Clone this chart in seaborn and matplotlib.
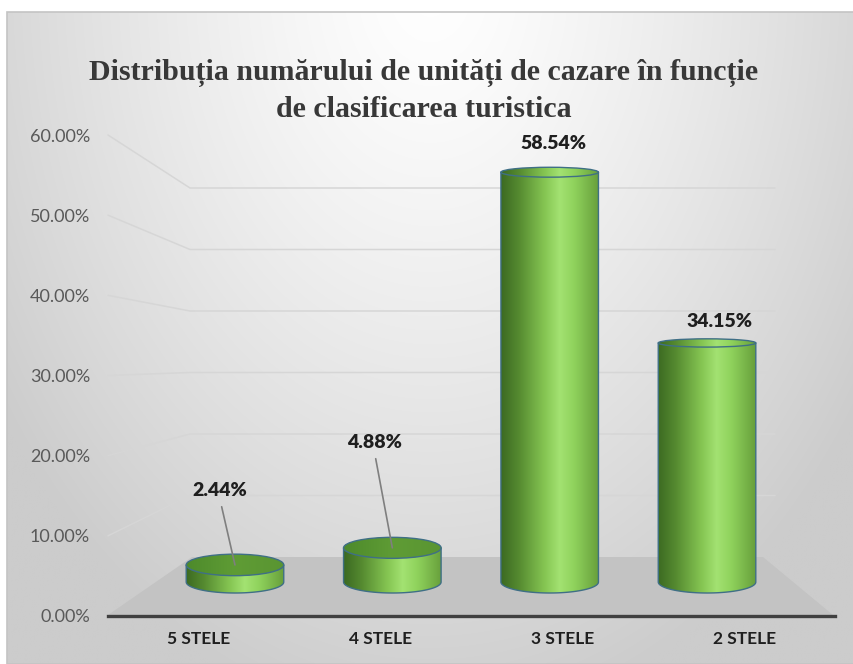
import numpy as np
import pandas as pd
import matplotlib
matplotlib.use("Agg")
import matplotlib.pyplot as plt
from matplotlib.path import Path
from matplotlib.patches import PathPatch, Ellipse, Polygon, Rectangle
from matplotlib.colors import LinearSegmentedColormap
from matplotlib.ticker import PercentFormatter
import seaborn as sns

# --- data -------------------------------------------------------------
categories = ["5 STELE", "4 STELE", "3 STELE", "2 STELE"]
shares = [0.0244, 0.0488, 0.5854, 0.3415]
y_ticks = [0.0, 0.1, 0.2, 0.3, 0.4, 0.5, 0.6]
title = "Distribuția numărului de unități de cazare în funcție\nde clasificarea turistica"

df = pd.DataFrame({"categorie": categories, "pondere": shares})

sns.set_style("white")
plt.rcParams["font.family"] = ["Lato", "DejaVu Sans"]

W, H = 854, 664
fig = plt.figure(figsize=(W / 100, H / 100), dpi=100, facecolor="white")

# --- scene: background, back wall grid, floor (pixel coordinates) -----
scene = fig.add_axes([0, 0, 1, 1], zorder=0)
scene.set_axis_off()
gx = np.linspace(0, 1, 400)
gy = np.linspace(0, 1, 320)
GX, GY = np.meshgrid(gx, gy)
t = np.clip(np.sqrt(((GX - 0.5) / 0.62) ** 2 + ((GY + 0.05) / 1.15) ** 2), 0, 1)
shade = 1.0 - 0.20 * t ** 1.3
bg = np.dstack([shade, shade, shade])
scene.imshow(bg, extent=(7, W, H, 12), aspect="auto", interpolation="bilinear")
scene.add_patch(Rectangle((7, 12), W - 7, H - 12, fill=False, ec="#c4c4c4", lw=1.2))

front_zero, front_top = 616, 135   # front plane: 0% and 60% rows
back_zero, back_top = 557, 188     # back wall: 0% and 60% rows
ymax = y_ticks[-1]
for tv in y_ticks[1:]:
    yf = front_zero - tv / ymax * (front_zero - front_top)
    yb = back_zero - tv / ymax * (back_zero - back_top)
    scene.plot([108, 190, 775], [yf, yb, yb], color="#d6d6d6", lw=1.1, zorder=1)

scene.add_patch(Polygon([(108, 615), (192, 557), (763, 557), (833, 615)],
                        closed=True, fc="#c3c3c3", ec="none", zorder=2))
scene.set_xlim(0, W)
scene.set_ylim(H, 0)

# --- front axes: value scale and category labels ------------------------
axf = fig.add_axes([108 / W, (H - front_zero) / H, 727 / W, (front_zero - front_top) / H],
                   zorder=1)
axf.set_facecolor("none")
axf.set_xlim(-0.5, len(categories) - 0.5)
axf.set_ylim(0, ymax)
axf.set_yticks(y_ticks)
axf.yaxis.set_major_formatter(PercentFormatter(1.0, decimals=2))
axf.set_xticks(range(len(categories)))
axf.set_xticklabels(categories, fontweight="bold", fontsize=12.5, color="#1f1f1f")
axf.tick_params(axis="y", length=0, pad=13, labelsize=13, labelcolor="#595959")
axf.tick_params(axis="x", length=0, pad=11)
for side in ("top", "left", "right"):
    axf.spines[side].set_visible(False)
axf.spines["bottom"].set_color("#404040")
axf.spines["bottom"].set_linewidth(2.4)
axf.grid(False)

# --- cylinders -----------------------------------------------------------
px = ymax / 420.0          # data units per pixel on the cylinder plane
below = 24                 # room under the zero line for the bottom rims
cyl_zero = 582
axb = fig.add_axes([156.3 / W, (H - cyl_zero - below) / H, 629.4 / W, (420 + below) / H],
                   zorder=2)
axb.set_facecolor("none")
sns.barplot(data=df, x="categorie", y="pondere", ax=axb, width=0.62,
            color="#6aa63a", saturation=1)
axb.set_axis_off()

body_cmap = LinearSegmentedColormap.from_list(
    "body", [(0.0, "#3c6a22"), (0.18, "#558a30"), (0.45, "#86c653"),
             (0.6, "#a3e272"), (0.75, "#8fd25c"), (1.0, "#679f3b")])
top_cmap = LinearSegmentedColormap.from_list(
    "top", [(0.0, "#4d8a2b"), (0.5, "#5f9c35"), (1.0, "#5a9532")])
grad = body_cmap(np.linspace(0, 1, 256))[None, :, :]
grad_top = top_cmap(np.linspace(0, 1, 256))[None, :, :]

label_offsets = [(-15, 74), (-18, 105), (4, 29), (12, 21)]
leader = [True, True, False, False]

for i, patch in enumerate(list(axb.patches)):
    x0 = patch.get_x()
    w = patch.get_width()
    h = patch.get_height()
    xc = x0 + w / 2
    patch.set_visible(False)

    hb = 11 * px                                          # bottom rim
    ht = np.interp(h, [0.0, 0.05, 0.3, 0.6], [11, 10.5, 4, 5]) * px  # top rim

    theta = np.linspace(np.pi, 2 * np.pi, 60)
    verts = [(x0, h), (x0, 0)]
    verts += list(zip(xc + w / 2 * np.cos(theta), hb * np.sin(theta)))
    verts += [(x0 + w, h), (x0, h)]
    body = Path(verts, [Path.MOVETO] + [Path.LINETO] * (len(verts) - 2) + [Path.CLOSEPOLY])
    outline = PathPatch(body, fc="none", ec="#3f6f86", lw=1.0, zorder=4)
    axb.add_patch(outline)
    im = axb.imshow(grad, extent=(x0, x0 + w, -hb, h), aspect="auto",
                    interpolation="bilinear", zorder=3)
    im.set_clip_path(outline)

    lid = Ellipse((xc, h), w, 2 * ht, fc="none", ec="#3f6f86", lw=1.0, zorder=5)
    axb.add_patch(lid)
    im_top = axb.imshow(grad_top if h < 0.1 else grad, extent=(x0, x0 + w, h - ht, h + ht),
                        aspect="auto", interpolation="bilinear", zorder=4.5)
    im_top.set_clip_path(lid)

    dx, dy = label_offsets[i]
    props = None
    if leader[i]:
        props = dict(arrowstyle="-", color="#7f7f7f", lw=1.2,
                     shrinkA=3, shrinkB=0, relpos=(0.5, 0.0))
    axb.annotate(f"{h:.2%}", xy=(xc, h), xytext=(dx, dy),
                 textcoords="offset pixels", ha="center", va="center",
                 fontsize=14, fontweight="heavy", color="#1f1f1f",
                 arrowprops=props, zorder=6, annotation_clip=False)

axb.set_xlim(-0.5, len(categories) - 0.5)
axb.set_ylim(-below * px, ymax)

# --- title ---------------------------------------------------------------
fig.text(424 / W, 1 - 91 / H, title, ha="center", va="center",
         multialignment="center", family=["Liberation Serif", "DejaVu Serif"],
         fontweight="bold", fontsize=21.5, color="#383838", linespacing=1.4)

fig.savefig("out.png", dpi=100, facecolor="white")
